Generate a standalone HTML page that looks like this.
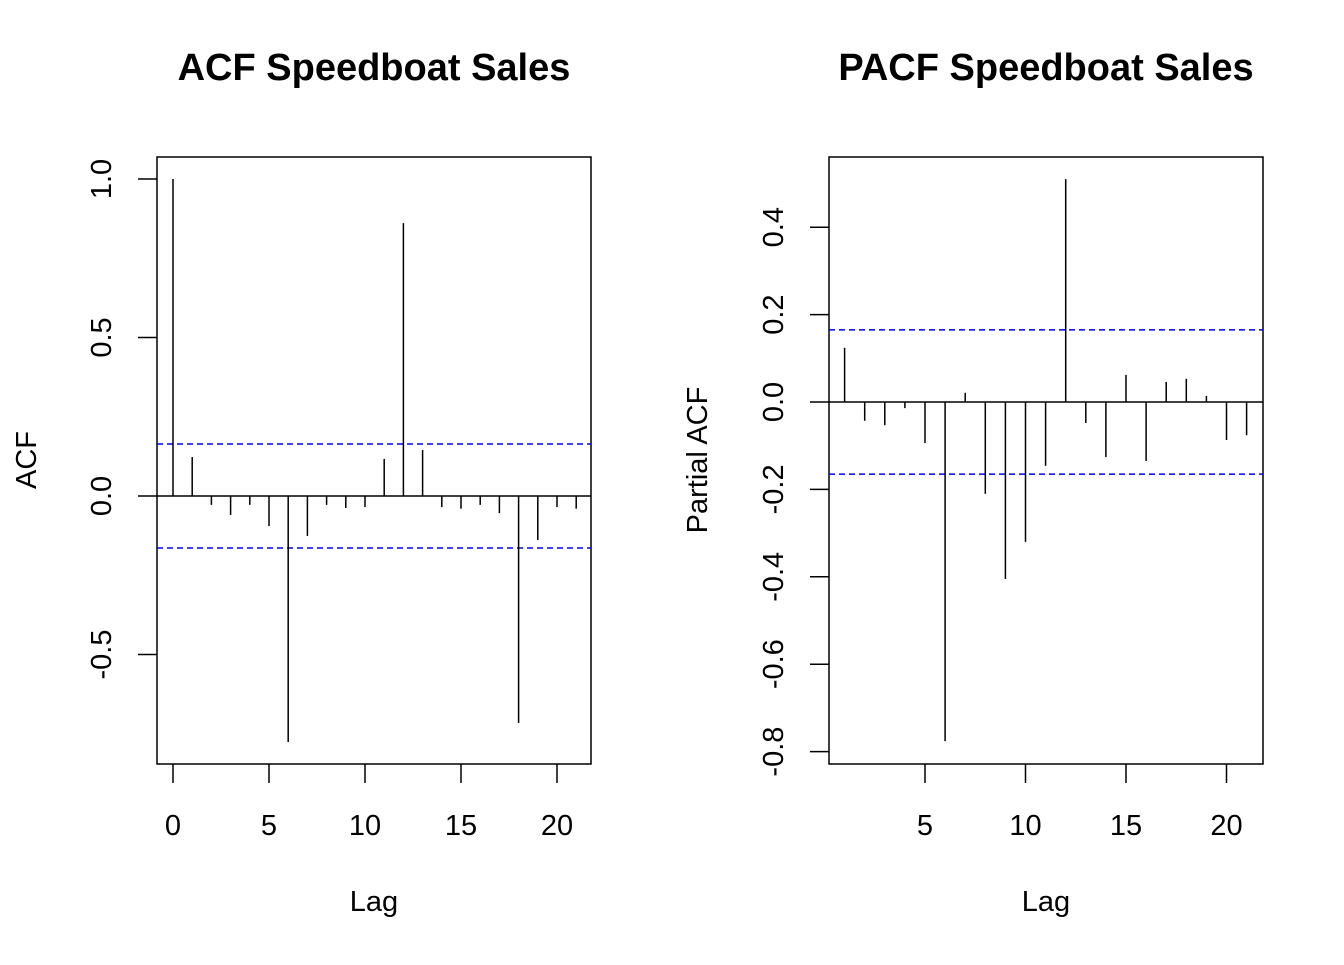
<!DOCTYPE html>
<html><head><meta charset="utf-8"><style>
body{margin:0;background:#fff}
svg text{font-family:"Liberation Sans",Arial,sans-serif;fill:#000}
</style></head><body>
<svg id="s" width="1344" height="960" xmlns="http://www.w3.org/2000/svg">
<text x="374" y="80" font-size="38" font-weight="bold" text-anchor="middle">ACF Speedboat Sales</text>
<text x="1046" y="80" font-size="38" font-weight="bold" text-anchor="middle">PACF Speedboat Sales</text>
<text x="374" y="911" font-size="29" text-anchor="middle">Lag</text>
<text x="1046" y="911" font-size="29" text-anchor="middle">Lag</text>
<text transform="translate(36,460) rotate(-90)" font-size="29" text-anchor="middle">ACF</text>
<text transform="translate(707,460) rotate(-90)" font-size="29" text-anchor="middle">Partial ACF</text>
<g id="g1"></g>
<g id="g2"></g>
</svg>
<script>
const acfLags=[0,1,2,3,4,5,6,7,8,9,10,11,12,13,14,15,16,17,18,19,20,21];
const acfValues=[1.0,0.123,-0.028,-0.06,-0.028,-0.095,-0.776,-0.126,-0.028,-0.038,-0.035,0.117,0.861,0.145,-0.035,-0.04,-0.028,-0.054,-0.716,-0.139,-0.035,-0.04];
const acfConf=0.164;
const acfXTicks=[0,5,10,15,20];
const acfYTicks=[-0.5,0.0,0.5,1.0];
const pacfLags=[1,2,3,4,5,6,7,8,9,10,11,12,13,14,15,16,17,18,19,20,21];
const pacfValues=[0.124,-0.043,-0.053,-0.014,-0.094,-0.776,0.021,-0.21,-0.405,-0.32,-0.146,0.51,-0.048,-0.126,0.062,-0.135,0.046,0.053,0.014,-0.087,-0.076];
const pacfConf=0.165;
const pacfXTicks=[5,10,15,20];
const pacfYTicks=[-0.8,-0.6,-0.4,-0.2,0.0,0.2,0.4];
const NS="http://www.w3.org/2000/svg";
function mk(g,tag,attrs){const e=document.createElementNS(NS,tag);for(const k in attrs)e.setAttribute(k,attrs[k]);g.appendChild(e);return e;}
function panel(g,box,lags,vals,conf,xt,yt,xs,ys,yfmt,pre){
  const X=v=>xs[0]+(v-xs[1])*xs[2], Y=v=>ys[0]-(v-ys[1])*ys[2];
  let r=mk(g,'rect',{x:box[0],y:box[1],width:box[2]-box[0],height:box[3]-box[1],fill:'none',stroke:'#000','stroke-width':1.5});
  
  
  let z=mk(g,'line',{x1:box[0],x2:box[2],y1:Y(0),y2:Y(0),stroke:'#000','stroke-width':1.5});
  
  
  [conf,-conf].forEach((c,i)=>{let l=mk(g,'line',{x1:box[0],x2:box[2],y1:Y(c),y2:Y(c),stroke:'#0000ff','stroke-width':1.5,'stroke-dasharray':'6,4'});
    
    });
  lags.forEach((lg,i)=>{let l=mk(g,'line',{x1:X(lg),x2:X(lg),y1:Y(0),y2:Y(vals[i]),stroke:'#000','stroke-width':1.5});
    
    });
  xt.forEach(t=>{mk(g,'line',{x1:X(t),x2:X(t),y1:box[3],y2:box[3]+19,stroke:'#000','stroke-width':1.5});
    let tx=mk(g,'text',{x:X(t),y:box[3]+71,'font-size':29,'text-anchor':'middle'});tx.textContent=t;
    
    });
  yt.forEach(t=>{mk(g,'line',{x1:box[0]-19,x2:box[0],y1:Y(t),y2:Y(t),stroke:'#000','stroke-width':1.5});
    let tx=mk(g,'text',{transform:`translate(${box[0]-46},${Y(t)}) rotate(-90)`,'font-size':29,'text-anchor':'middle'});tx.textContent=yfmt(t);
    
    });
}
panel(document.getElementById('g1'),[157,157,591,764],acfLags,acfValues,acfConf,acfXTicks,acfYTicks,[173,0,19.2],[496,0,317],t=>t.toFixed(1),'acf');
panel(document.getElementById('g2'),[829,157,1263,764],pacfLags,pacfValues,pacfConf,pacfXTicks,pacfYTicks,[925,5,20.1],[402,0,437],t=>t.toFixed(1),'pacf');
</script>
</body></html>
